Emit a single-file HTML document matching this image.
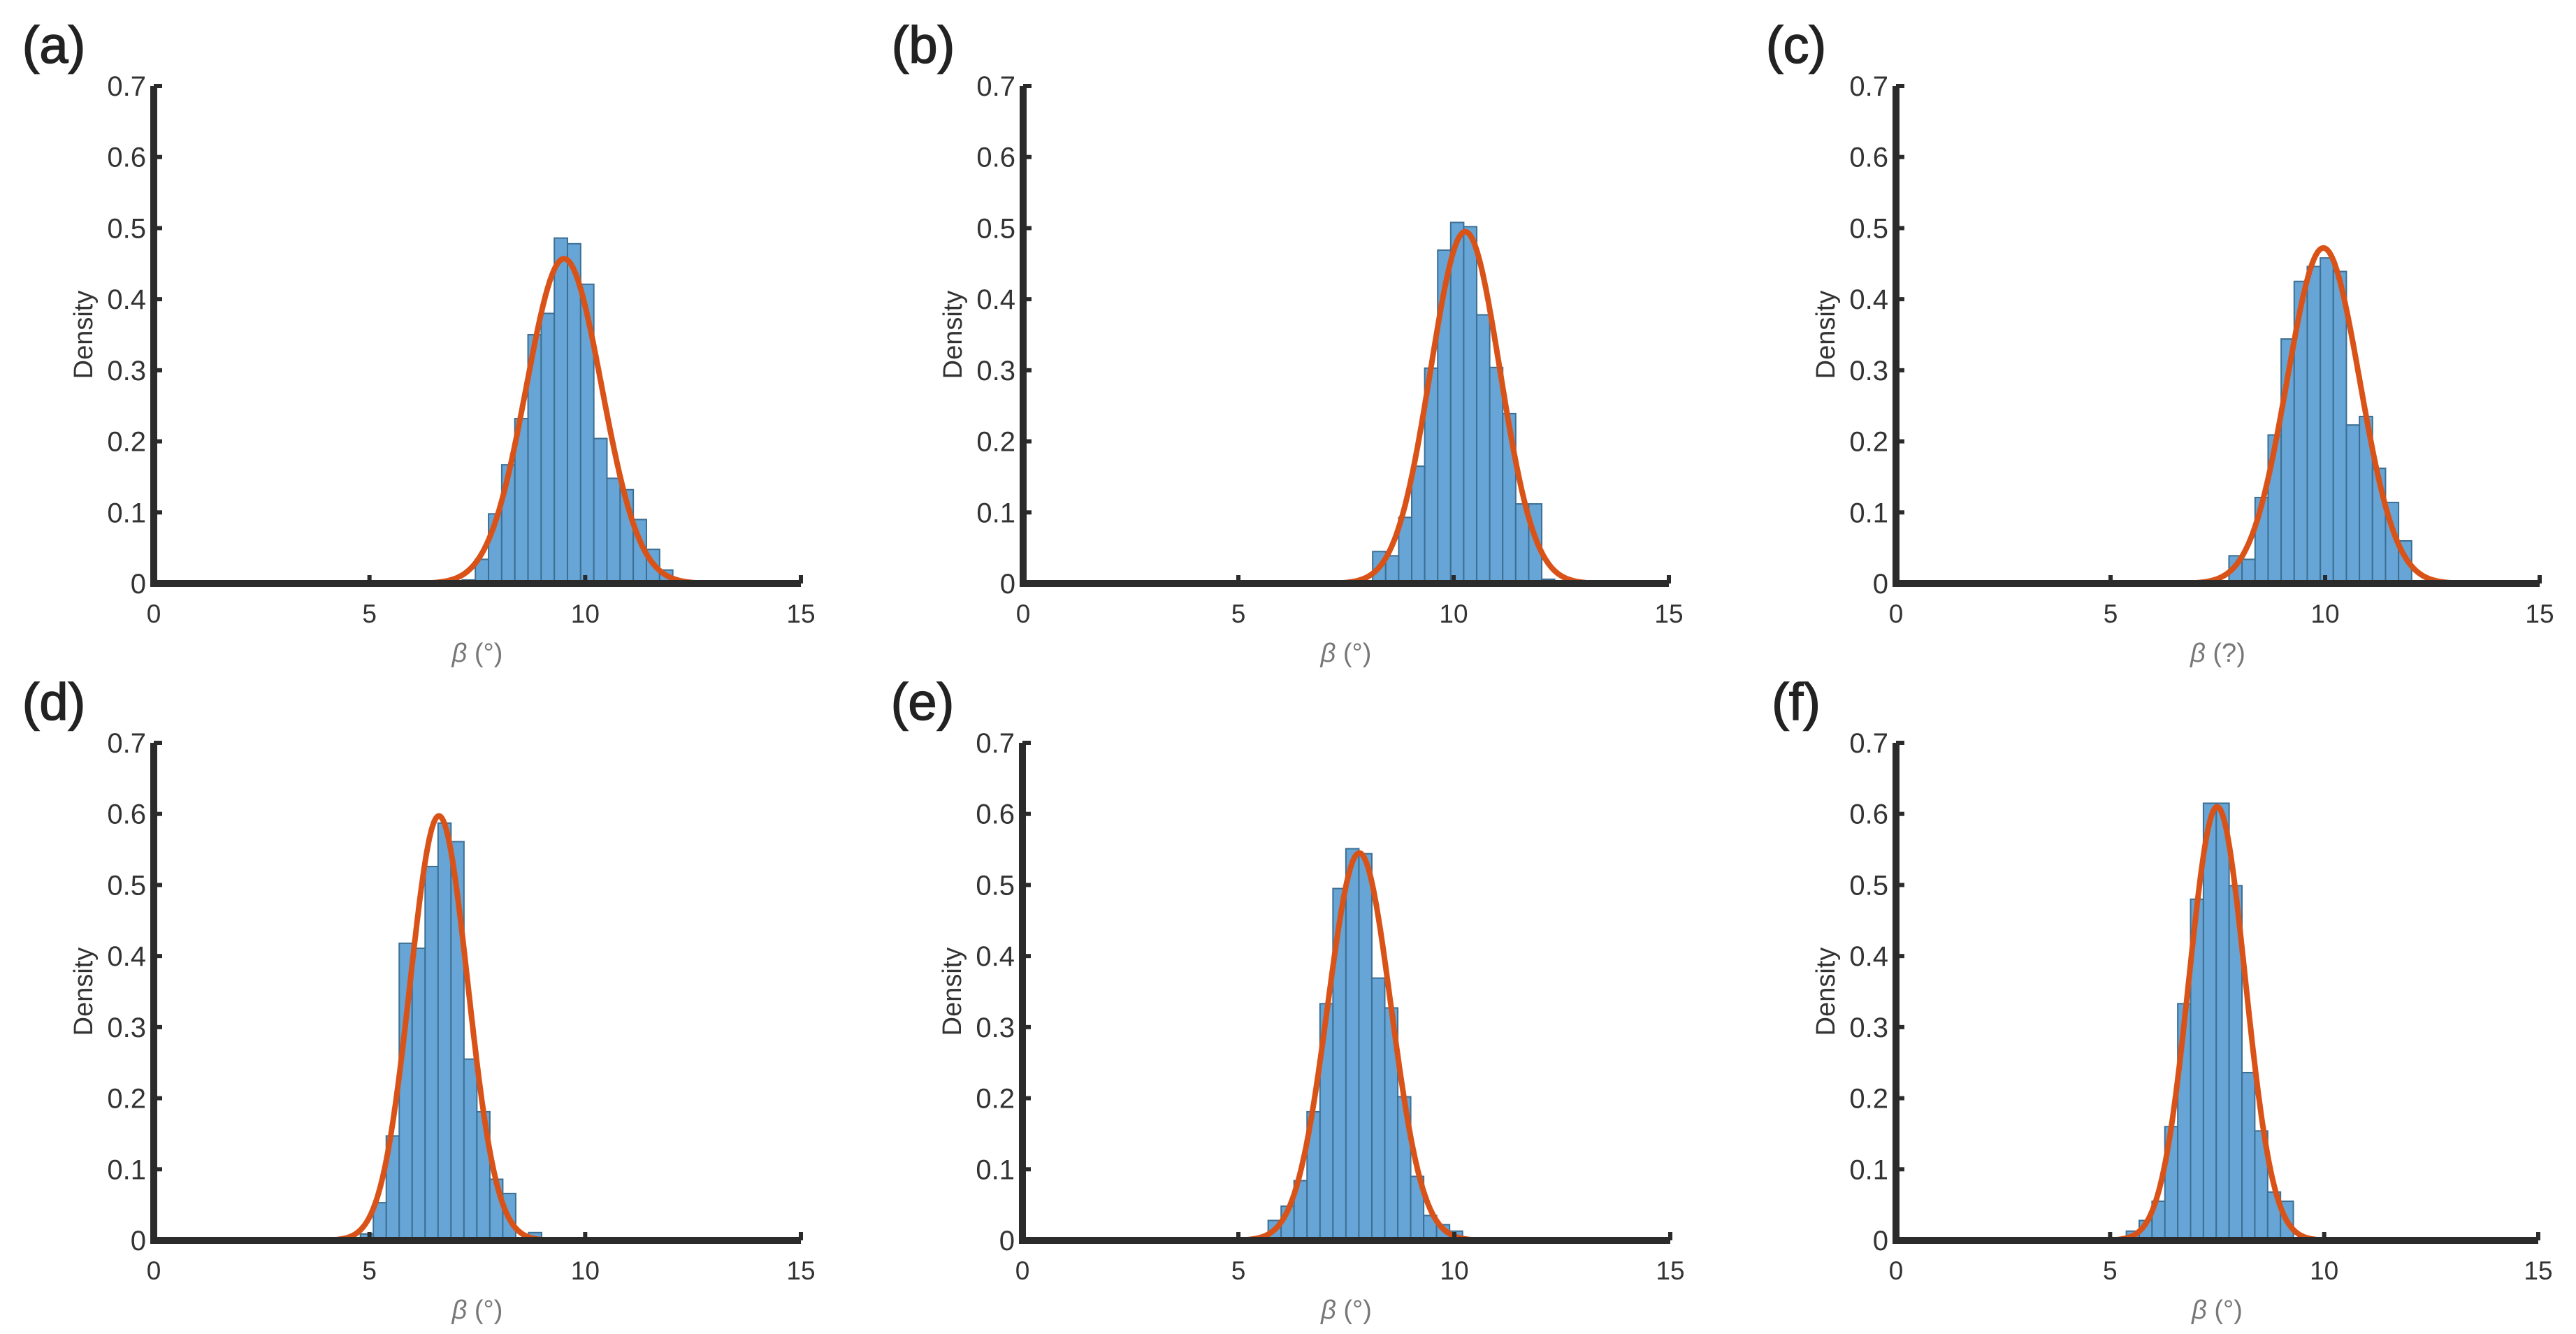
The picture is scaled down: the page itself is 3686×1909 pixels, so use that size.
<!DOCTYPE html>
<html><head><meta charset="utf-8">
<style>
html,body{margin:0;padding:0;background:#fff;}
svg{display:block;}
text{font-family:"Liberation Sans",sans-serif;}
</style></head>
<body>
<svg id="fig" width="3686" height="1909" viewBox="0 0 3686 1909" xmlns="http://www.w3.org/2000/svg"></svg>
<script>
const panelLabels = ["(a)","(b)","(c)","(d)","(e)","(f)"];
const xUnits = ["(°)","(°)","(?)","(°)","(°)","(°)"];
const binStart = [7.15, 8.12, 7.76, 4.79, 5.69, 5.38];
const binWidth = [0.305, 0.302, 0.304, 0.30, 0.30, 0.30];
const densA = [0.005,0.034,0.098,0.167,0.232,0.35,0.38,0.486,0.478,0.421,0.204,0.148,0.132,0.09,0.048,0.019];
const densB = [0.045,0.039,0.093,0.165,0.303,0.469,0.508,0.502,0.378,0.304,0.239,0.112,0.112,0.006,0.001,0.003,0.002];
const densC = [0.039,0.034,0.121,0.209,0.344,0.425,0.446,0.458,0.439,0.223,0.235,0.162,0.114,0.060];
const densD = [0.009,0.053,0.147,0.418,0.411,0.526,0.587,0.561,0.255,0.181,0.086,0.066,0.0,0.011];
const densE = [0.028,0.048,0.084,0.181,0.333,0.495,0.551,0.544,0.369,0.327,0.202,0.09,0.035,0.022,0.013];
const densF = [0.013,0.028,0.055,0.16,0.333,0.48,0.615,0.615,0.499,0.236,0.154,0.068,0.055,0.003];
const fitMu = [9.51, 10.27, 9.96, 6.61, 7.80, 7.50];
const fitSigma = [0.873, 0.806, 0.845, 0.668, 0.732, 0.654];
const xTicks = [0,5,10,15];
const yTicks = [0,0.1,0.2,0.3,0.4,0.5,0.6,0.7];
const yTickLabels = ["0","0.1","0.2","0.3","0.4","0.5","0.6","0.7"];

const allDens = [densA,densB,densC,densD,densE,densF];
const layout = [
  {x0:220,x1:1146,yb:835,yt:123},
  {x0:1464,x1:2388,yb:835,yt:123},
  {x0:2713,x1:3634,yb:835,yt:123},
  {x0:220,x1:1146,yb:1775,yt:1063},
  {x0:1463,x1:2390,yb:1775,yt:1063},
  {x0:2713,x1:3632,yb:1775,yt:1063}
];
const NS="http://www.w3.org/2000/svg";
const svg=document.getElementById('fig');
function mk(tag,attrs,parent){const e=document.createElementNS(NS,tag);for(const k in attrs)e.setAttribute(k,attrs[k]);(parent||svg).appendChild(e);return e;}

layout.forEach((L,p)=>{
  const g=mk('g',{});
  
  
  const sx=v=>L.x0+(v-0)/15*(L.x1-L.x0);
  const sy=v=>L.yb-(v/0.7)*(L.yb-L.yt);
  const pl=mk('text',{x:L.x0-143,y:L.yt-33,'font-size':74,'text-anchor':'middle',fill:'#222',stroke:'#222','stroke-width':1.5,'font-family':'"DejaVu Sans",sans-serif'},g);
  pl.textContent=panelLabels[p];
  
  
  const bg=mk('g',{},g);
  
  
  allDens[p].forEach((d,i)=>{
    const a=binStart[p]+i*binWidth[p], b=a+binWidth[p];
    const r=mk('rect',{x:sx(a),y:sy(d),width:sx(b)-sx(a),height:sy(0)-sy(d),fill:'#66a5d6',stroke:'#3d6f93','stroke-width':2},bg);
    
    
  });
  let pts=[];
  const mu=fitMu[p], s=fitSigma[p];
  for(let v=mu-4.2*s; v<=mu+4.2*s; v+=0.02){
    const d=Math.exp(-0.5*((v-mu)/s)**2)/(s*Math.sqrt(2*Math.PI));
    pts.push(sx(v).toFixed(1)+','+sy(d).toFixed(1));
  }
  const c=mk('polyline',{points:pts.join(' '),fill:'none',stroke:'#d95319','stroke-width':8,'stroke-linejoin':'round'},g);
  
  
  const ax=mk('path',{d:`M${L.x0},${L.yt} L${L.x0},${L.yb} L${L.x1},${L.yb}`,fill:'none',stroke:'#2b2b2b','stroke-width':10},g);
  
  
  xTicks.forEach(t=>{
    const tk=mk('line',{x1:sx(t),x2:sx(t),y1:L.yb,y2:L.yb-12,stroke:'#2b2b2b','stroke-width':6},g);
    
    
    const tl=mk('text',{x:sx(t),y:L.yb+56,'font-size':37,'text-anchor':'middle',fill:'#333'},g);
    tl.textContent=String(t);
    
    
  });
  yTicks.forEach((t,i)=>{
    const tk=mk('line',{x1:L.x0,x2:L.x0+12,y1:sy(t),y2:sy(t),stroke:'#2b2b2b','stroke-width':6},g);
    
    
    const tl=mk('text',{x:L.x0-11,y:sy(t)+14,'font-size':40,'text-anchor':'end',fill:'#333'},g);
    tl.textContent=yTickLabels[i];
    
    
  });
  const yl=mk('text',{x:0,y:0,'font-size':38,'text-anchor':'middle',fill:'#333',transform:`translate(${L.x0-88},${(L.yb+L.yt)/2}) rotate(-90)`},g);
  yl.textContent='Density';
  
  
  const xl=mk('text',{x:(L.x0+L.x1)/2,y:L.yb+112,'font-size':38,'text-anchor':'middle',fill:'#777'},g);
  
  
  const t1=mk('tspan',{'font-style':'italic'},xl);
  t1.textContent='β ';
  const t2=mk('tspan',{},xl);
  t2.textContent=xUnits[p];
});
</script>
</body></html>
